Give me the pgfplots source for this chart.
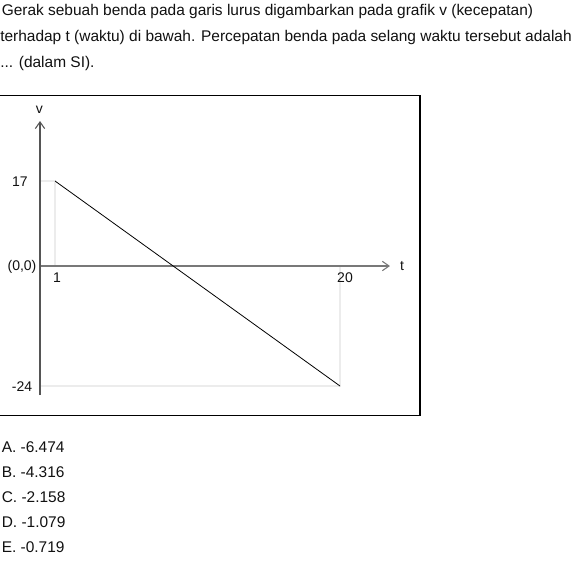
\documentclass[border=0pt]{standalone}
\usepackage{pgfplots}
\pgfplotsset{compat=1.18}
\usepackage{fontspec}
\setmainfont{Liberation Sans}
\usetikzlibrary{arrows.meta}
\definecolor{helper}{HTML}{ECECEC}
\definecolor{yax}{HTML}{555555}
\definecolor{xax}{HTML}{787878}
\definecolor{txt}{HTML}{111111}
\begin{document}
\begin{tikzpicture}[x=0.75pt,y=-0.75pt]
\path[use as bounding box, fill=white] (0,0) rectangle (574,562);
\begin{axis}[at={(0pt,-421.5pt)}, anchor=south west, scale only axis,
  width=430.5pt, height=421.5pt, hide axis, clip=false,
  xmin=-2.666667, xmax=35.6, ymin=-59.2, ymax=53.2]
\addplot[helper, line width=1.5pt] coordinates {(0,17) (1,17) (1,0)};
\addplot[helper, line width=1.5pt] coordinates {(0,-24) (20,-24) (20,0)};
\draw[xax, line width=1.6pt, -{Straight Barb[length=5pt,width=7pt,line width=0.8pt]}] (axis cs:0,0) -- (axis cs:23.33,0);
\draw[yax, line width=2.2pt, -{Straight Barb[length=5pt,width=7pt,line width=0.8pt]}] (axis cs:0,-25.8) -- (axis cs:0,29);
\addplot[black, line width=0.6pt] coordinates {(1,17) (20,-24)};
\end{axis}
% frame
\draw[black, line width=0.9pt] (-2,95.5) -- (420,95.5) -- (420,415.5) -- (-2,415.5);
% question text
\begin{scope}[every node/.style={anchor=base west, inner sep=0pt, text=txt, font=\fontsize{11.6pt}{13pt}\selectfont}]
\node at (1.5,15) {Gerak sebuah benda pada garis lurus digambarkan pada grafik v (kecepatan)};
\node at (0,41) {terhadap t (waktu) di bawah. Percepatan benda pada selang waktu tersebut adalah};
\node at (0,67) {... (dalam SI).};
\end{scope}
\begin{scope}[every node/.style={anchor=base west, inner sep=0pt, text=txt, font=\fontsize{11.6pt}{13pt}\selectfont}]
\node at (1.5,452.3) {A. -6.474};
\node at (1.5,477.3) {B. -4.316};
\node at (1.5,502.3) {C. -2.158};
\node at (1.5,527.3) {D. -1.079};
\node at (1.5,552.3) {E. -0.719};
\end{scope}
% tick labels
\begin{scope}[every node/.style={inner sep=0pt, text=txt, font=\fontsize{10.5pt}{12pt}\selectfont}]
\node at (39.5,110) {v};
\node at (20,182) {17};
\node at (22,267) {(0,0)};
\node at (22,386.5) {-24};
\node at (57,277.5) {1};
\node at (345,277.5) {20};
\node at (402,266.5) {t};
\end{scope}
\end{tikzpicture}
\end{document}
